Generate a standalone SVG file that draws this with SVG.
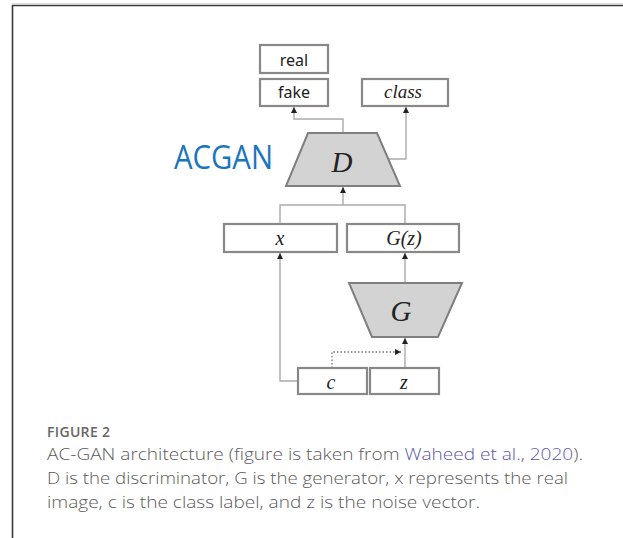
<svg xmlns="http://www.w3.org/2000/svg" width="623" height="538" viewBox="0 0 623 538">
<defs>
<marker id="ah" markerUnits="userSpaceOnUse" markerWidth="6" markerHeight="6" refX="6" refY="3" orient="auto">
<path d="M0,0 L6,3 L0,6 z" fill="#222"/>
</marker>
<style>
.box{fill:#fff;stroke:#888;stroke-width:2.2}
.trap{fill:#d3d3d3;stroke:#7f7f7f;stroke-width:2}
.con{fill:none;stroke:#aaa;stroke-width:1.4}
.arr{marker-end:url(#ah)}
.dot{fill:none;stroke:#777;stroke-width:1.3;stroke-dasharray:1.5 2}
.sans{font-family:"Noto Sans","Open Sans",sans-serif;font-size:16px;fill:#222;text-anchor:middle}
.math{font-family:"Liberation Serif","DejaVu Serif",serif;font-style:italic;fill:#222;text-anchor:middle}
.cap{font-family:"Open Sans","Noto Sans",sans-serif;font-size:17px;font-weight:300;fill:#5a5a5a}
</style>
</defs>
<rect width="623" height="538" fill="#fff"/>
<line x1="12" y1="3.5" x2="623" y2="3.5" stroke="#ddd" stroke-width="1"/>
<path d="M12.5,538 V5.5 H623" fill="none" stroke="#3a3a3a" stroke-width="1.6"/>
<g id="connectors">
<path class="con arr" d="M343,133 V119 H294 V107"/>
<path class="con arr" d="M388,159 H406 V107"/>
<path class="con" d="M280,224 V205 H405 V224"/>
<path class="con arr" d="M343,205 V187"/>
<path class="con arr" d="M298,381 H280 V253"/>
<path class="con arr" d="M405,283 V253"/>
<path class="con arr" d="M405,368 V338"/>
<path class="dot arr" d="M332,368 V352 H401"/>
</g>
<g id="real"><rect class="box" x="260" y="45" width="68" height="28"/><text class="sans" x="294" y="65.5">real</text></g>
<g id="fake"><rect class="box" x="260" y="79" width="68" height="27"/><text class="sans" x="294" y="98">fake</text></g>
<g id="class"><rect class="box" x="362" y="79" width="86" height="27"/><text class="math" x="403" y="98" font-size="19">class</text></g>
<g id="D"><polygon class="trap" points="308,133 377,133 400,186 286,186"/><text class="math" x="342" y="172" font-size="29">D</text></g>
<g id="acgan"><text x="174" y="169" font-family="'Open Sans','Noto Sans',sans-serif" font-size="32" fill="#1b75bc" textLength="99" lengthAdjust="spacingAndGlyphs">ACGAN</text></g>
<g id="x"><rect class="box" x="224" y="224" width="113" height="28"/><text class="math" x="280" y="245" font-size="20">x</text></g>
<g id="Gz"><rect class="box" x="347" y="224" width="112" height="28"/><text class="math" x="404" y="245" font-size="20">G(z)</text></g>
<g id="G"><polygon class="trap" points="349,283 462,283 438,337 372,337"/><text class="math" x="401" y="321" font-size="29">G</text></g>
<g id="c"><rect class="box" x="298" y="368" width="69" height="26"/><text class="math" x="331" y="389" font-size="20">c</text></g>
<g id="z"><rect class="box" x="370" y="368" width="69" height="26"/><text class="math" x="404" y="389" font-size="20">z</text></g>
<g id="caption">
<text x="47" y="436.5" font-family="'Open Sans','Noto Sans',sans-serif" font-size="14" font-weight="600" fill="#666" textLength="63">FIGURE 2</text>
<text class="cap" x="47" y="460" textLength="536" lengthAdjust="spacingAndGlyphs">AC-GAN architecture (figure is taken from <tspan fill="#5b58b0">Waheed et al., 2020</tspan>).</text>
<text class="cap" x="47" y="484" textLength="521" lengthAdjust="spacingAndGlyphs">D is the discriminator, G is the generator, x represents the real</text>
<text class="cap" x="47" y="508" textLength="433" lengthAdjust="spacingAndGlyphs">image, c is the class label, and z is the noise vector.</text>
</g>
</svg>
